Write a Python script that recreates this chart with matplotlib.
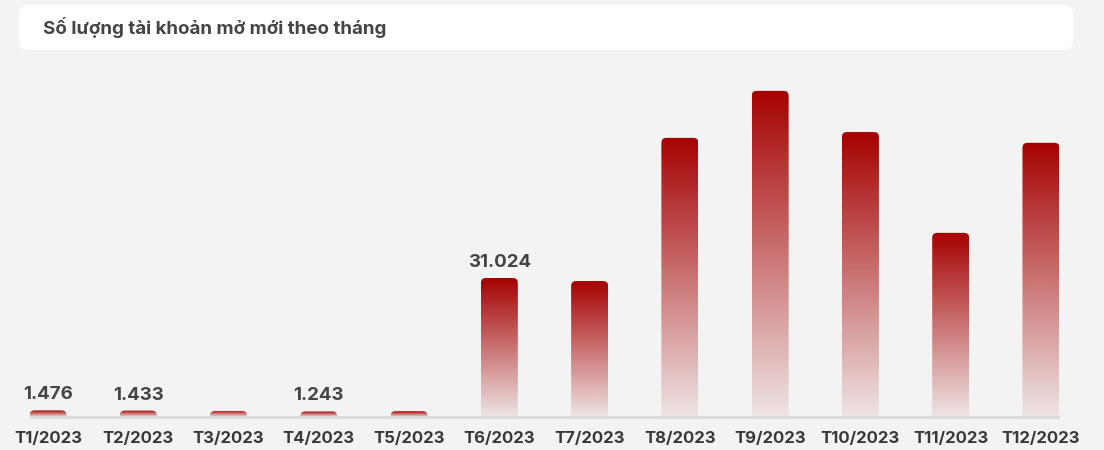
import matplotlib
matplotlib.use("Agg")
import matplotlib.pyplot as plt
import numpy as np
from matplotlib.patches import FancyBboxPatch
from matplotlib.colors import to_rgb

# ---- data ----
months = ["T1/2023", "T2/2023", "T3/2023", "T4/2023", "T5/2023", "T6/2023",
          "T7/2023", "T8/2023", "T9/2023", "T10/2023", "T11/2023", "T12/2023"]
accounts = [1476, 1433, 1350, 1243, 1300, 31024, 30350, 62300, 72800, 63600, 41100, 61200]
value_labels = ["1.476", "1.433", "", "1.243", "", "31.024", "", "", "", "", "", ""]
title = "Số lượng tài khoản mở mới theo tháng"

# ---- style ----
BG = "#F3F3F3"
BAR_TOP = "#A50000"
TEXT = "#383838"
FONT = ["Inter", "DejaVu Sans"]

W, H, DPI = 1104, 450, 100
fig = plt.figure(figsize=(W / DPI, H / DPI), dpi=DPI, facecolor=BG)

# title box
box = FancyBboxPatch((19 / W, 1 - 50 / H), (1073 - 19) / W, 45 / H,
                     boxstyle="round,pad=0,rounding_size=0.008",
                     transform=fig.transFigure, facecolor="white", edgecolor="none",
                     mutation_aspect=W / H)
fig.patches.append(box)
fig.text(43 / W, 1 - 28 / H, title, fontsize=13.5, fontweight="bold", color="#454545",
         va="center", ha="left", family=FONT)

# axes: baseline at 417 px from top, top at 60 px
base_px = 417
top_px = 60
ax = fig.add_axes([0, (H - base_px) / H, 1, (base_px - top_px) / H])
ax.set_facecolor(BG)
ax.patch.set_alpha(0)

spacing_px = 90.27
first_px = 48
xmin = -first_px / spacing_px
xmax = (W - first_px) / spacing_px
units_per_px = 223.2
ymax = (base_px - top_px) * units_per_px
ax.set_xlim(xmin, xmax)
ax.set_ylim(0, ymax)

bw = 37 / spacing_px
r_px = 5
rx = r_px / spacing_px
ry = r_px * units_per_px

rgb = np.array(to_rgb(BAR_TOP))
n = 256
alpha = np.linspace(1.0, 0.06, n)
grad = np.zeros((n, 1, 4))
grad[:, 0, :3] = rgb
grad[:, 0, 3] = alpha

x = np.arange(len(months))
for xi, v, lab in zip(x, accounts, value_labels):
    patch = FancyBboxPatch((xi - bw / 2, -ry * 1.5), bw, v + ry * 1.5,
                           boxstyle=f"round,pad=0,rounding_size={rx}",
                           mutation_aspect=ry / rx, facecolor="none", edgecolor="none")
    ax.add_patch(patch)
    im = ax.imshow(grad, extent=(xi - bw / 2, xi + bw / 2, 0, v), aspect="auto",
                   origin="upper", interpolation="bilinear", zorder=2)
    im.set_clip_path(patch)
    if lab:
        ax.text(xi, v + 7 * units_per_px, lab, ha="center", va="bottom", fontsize=13.5,
                fontweight="bold", color="#444444", family=FONT)

ax.set_xlim(xmin, xmax)
ax.set_ylim(0, ymax)

# baseline
ax.plot([x[0] - bw / 2, x[-1] + bw / 2], [0, 0], color="#DADADA", lw=2,
        solid_capstyle="butt", clip_on=False, zorder=3)

for s in ax.spines.values():
    s.set_visible(False)
ax.set_yticks([])
ax.set_xticks(x)
ax.set_xticklabels(months, fontsize=12, fontweight="bold", color=TEXT, family=FONT)
ax.tick_params(axis="x", length=0, pad=10)

fig.savefig("out.png", dpi=DPI, facecolor=BG)
